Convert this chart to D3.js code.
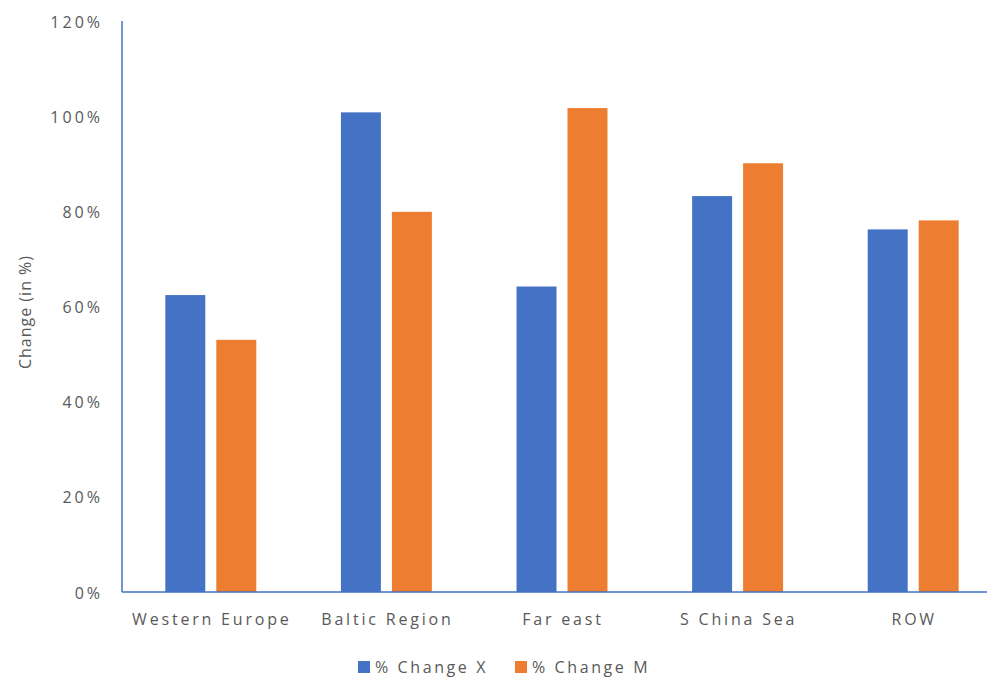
<!DOCTYPE html>
<html>
<head>
<meta charset="utf-8">
<script src="https://cdn.jsdelivr.net/npm/d3@7"></script>
<style>
  html, body { margin: 0; padding: 0; background: #fff; }
  svg { display: block; }
  text { font-family: "Open Sans", sans-serif; fill: #595959; }
</style>
</head>
<body>
<svg id="chart" width="987" height="677"></svg>
<script>
const categories = ["Western Europe", "Baltic Region", "Far east", "S China Sea", "ROW"];
const seriesNames = ["% Change X", "% Change M"];
const changeX = [62.4, 100.8, 64.2, 83.2, 76.2];
const changeM = [53.0, 79.9, 101.7, 90.1, 78.1];
const yTicks = [0, 20, 40, 60, 80, 100, 120];
const colors = ["#4472C4", "#ED7D31"];
const yTitle = "Change (in %)";

const svg = d3.select("#chart");

const x0 = d3.scaleBand()
  .domain(categories)
  .range([123, 1001])
  .paddingInner(0.482)
  .paddingOuter(0.241);

const x1 = d3.scaleBand()
  .domain(seriesNames)
  .range([0, x0.bandwidth()])
  .paddingInner(0.216);

const y = d3.scaleLinear().domain([0, 120]).range([592, 21]);

const data = categories.map((c, i) => ({ cat: c, vals: [changeX[i], changeM[i]] }));

// bars
const groups = svg.append("g").selectAll("g")
  .data(data).join("g")
  .attr("transform", d => `translate(${x0(d.cat)},0)`);

groups.selectAll("rect")
  .data(d => d.vals.map((v, j) => ({ s: seriesNames[j], v, j })))
  .join("rect")
  .attr("x", d => x1(d.s))
  .attr("width", x1.bandwidth())
  .attr("y", d => y(d.v))
  .attr("height", d => y(0) - y(d.v))
  .attr("fill", d => colors[d.j]);

// y axis
const yAxis = d3.axisLeft(y).tickValues(yTicks).tickFormat(d => d + "%").tickSize(0).tickPadding(19);
const gy = svg.append("g").attr("transform", "translate(122,0)").call(yAxis);
gy.select(".domain").remove();
gy.selectAll("text")
  .style("font-size", "16px")
  .style("letter-spacing", "3px")
  .attr("fill", "#595959")
  .attr("dy", "0.38em");

svg.append("line")
  .attr("x1", 122).attr("x2", 122)
  .attr("y1", y(120)).attr("y2", y(0))
  .attr("stroke", "#4472C4").attr("stroke-width", 1.5);

// x axis
const xAxis = d3.axisBottom(x0).tickSize(0).tickPadding(22);
const gx = svg.append("g").attr("transform", `translate(1,${y(0)})`).call(xAxis);
gx.select(".domain").remove();
gx.selectAll("text")
  .style("font-size", "16px")
  .style("letter-spacing", "2.8px")
  .attr("fill", "#595959");

svg.append("line")
  .attr("x1", 122).attr("x2", 987)
  .attr("y1", y(0)).attr("y2", y(0))
  .attr("stroke", "#4472C4").attr("stroke-width", 1.5);

// y title
svg.append("text")
  .attr("transform", "translate(25,312) rotate(-90)")
  .attr("text-anchor", "middle")
  .attr("dominant-baseline", "central")
  .style("font-size", "16px")
  .style("letter-spacing", "1px")
  .text(yTitle);

// legend
const legendX = [358, 515];
const legend = svg.append("g");
seriesNames.forEach((s, i) => {
  legend.append("rect")
    .attr("x", legendX[i]).attr("y", 661)
    .attr("width", 12).attr("height", 12)
    .attr("fill", colors[i]);
  legend.append("text")
    .attr("x", legendX[i] + 17).attr("y", 673)
    .style("font-size", "16px")
    .style("letter-spacing", "2.6px")
    .text(s);
});
</script>
</body>
</html>
